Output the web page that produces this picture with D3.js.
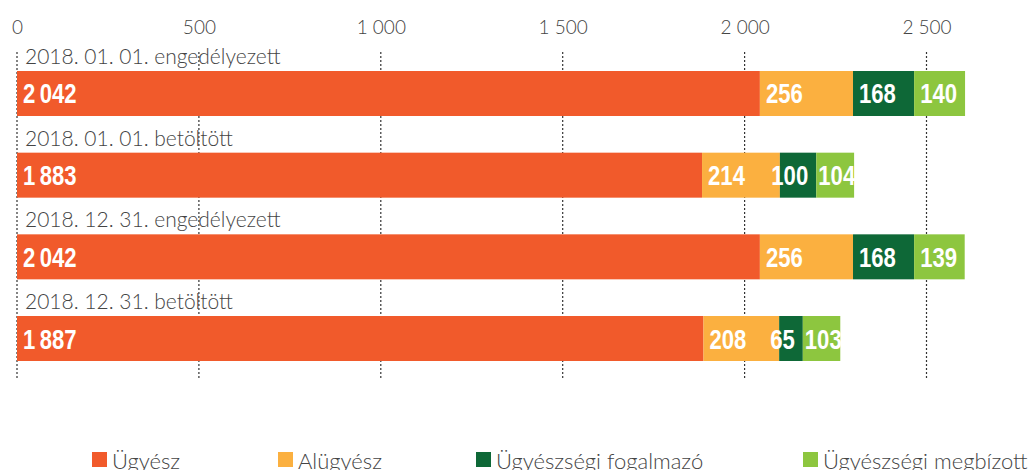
<!DOCTYPE html>
<html lang="hu">
<head>
<meta charset="utf-8">
<script src="https://cdn.jsdelivr.net/npm/d3@7"></script>
<style>
  html, body { margin: 0; padding: 0; background: #fff; }
  svg { display: block; }
  .lbl { font-family: Lato, "Open Sans", sans-serif; font-weight: 300; fill: #444; }
  .val { font-family: "Liberation Sans", Arial, sans-serif; font-weight: 700; fill: #fff; }
</style>
</head>
<body>
<svg id="chart" width="1034" height="470"></svg>
<script>
// Létszámadatok kategóriánként
const categories = [
  "2018. 01. 01. engedélyezett",
  "2018. 01. 01. betöltött",
  "2018. 12. 31. engedélyezett",
  "2018. 12. 31. betöltött"
];
const seriesNames = ["Ügyész", "Alügyész", "Ügyészségi fogalmazó", "Ügyészségi megbízott"];
const ugyesz     = [2042, 1883, 2042, 1887];
const alugyesz   = [256, 214, 256, 208];
const fogalmazo  = [168, 100, 168, 65];
const megbizott  = [140, 104, 139, 103];
const tickValues = [0, 500, 1000, 1500, 2000, 2500];
const colors = ["#F15A2B", "#FBB040", "#0E6837", "#8DC63F"];

const rows = categories.map((c, i) => ({
  cat: c,
  "Ügyész": ugyesz[i],
  "Alügyész": alugyesz[i],
  "Ügyészségi fogalmazó": fogalmazo[i],
  "Ügyészségi megbízott": megbizott[i]
}));

const svg = d3.select("#chart");

const x = d3.scaleLinear().domain([0, 2500]).range([17, 926.5]);
const y = d3.scaleBand().domain(categories).range([71, 361]).paddingInner(0.449).paddingOuter(0);
const color = d3.scaleOrdinal().domain(seriesNames).range(colors);

const axisLocale = d3.formatLocale({ decimal: ",", thousands: " ", grouping: [3], currency: ["", " Ft"] });
const valLocale  = d3.formatLocale({ decimal: ",", thousands: "\u2009", grouping: [3], currency: ["", " Ft"] });
const fmtAxis = axisLocale.format(",d");
const fmtVal = valLocale.format(",d");

// Függőleges, pontozott rácsvonalak
svg.append("g")
  .selectAll("line")
  .data(tickValues)
  .join("line")
  .attr("x1", d => x(d)).attr("x2", d => x(d))
  .attr("y1", 52).attr("y2", 380)
  .attr("stroke", "#333")
  .attr("stroke-width", 1.2)
  .attr("stroke-dasharray", "2,2");

// Felső tengely feliratai
const axis = d3.axisTop(x).tickValues(tickValues).tickFormat(fmtAxis).tickSize(0).tickPadding(0);
const ag = svg.append("g").attr("transform", "translate(0,34)").call(axis);
ag.select(".domain").remove();
ag.selectAll("text")
  .attr("class", "lbl")
  .attr("font-size", 19)
  .attr("dy", 0)
  .style("fill", "#444");

// Halmozott sávok
const stack = d3.stack().keys(seriesNames);
const layers = stack(rows);

const g = svg.append("g");
layers.forEach((layer, li) => {
  const lg = g.append("g").attr("fill", color(layer.key));
  lg.selectAll("rect")
    .data(layer)
    .join("rect")
    .attr("x", d => x(d[0]))
    .attr("y", d => y(d.data.cat))
    .attr("width", d => x(d[1]) - x(d[0]))
    .attr("height", y.bandwidth());
});

// Kategóriacímkék a sávok fölött
svg.append("g")
  .selectAll("text")
  .data(categories)
  .join("text")
  .attr("class", "lbl")
  .attr("font-size", 21)
  .attr("x", 25)
  .attr("y", d => y(d) - 7)
  .text(d => d);

// Értékcímkék a szakaszokon belül
const sx = 0.82;
const vg = svg.append("g");
layers.forEach((layer, li) => {
  layer.forEach(d => {
    const x0 = x(d[0]), x1 = x(d[1]);
    const value = d[1] - d[0];
    const t = vg.append("text")
      .attr("class", "val")
      .attr("font-size", 27)
      .text(fmtVal(value));
    const w = t.node().getComputedTextLength() * sx;
    const cy = y(d.data.cat) + y.bandwidth() / 2 + 10;
    let tx;
    if (w + 12 <= x1 - x0) tx = x0 + 6;
    else if (li === layers.length - 1) tx = x0 + 2;
    else tx = x1 - 8 - w;
    t.attr("transform", `translate(${tx},${cy}) scale(${sx},1)`);
  });
});

// Jelmagyarázat
const legendX = [92, 278, 476, 803];
const lgd = svg.append("g").selectAll("g")
  .data(seriesNames)
  .join("g")
  .attr("transform", (d, i) => `translate(${legendX[i]},452)`);
lgd.append("rect")
  .attr("width", 15).attr("height", 15)
  .attr("fill", d => color(d));
lgd.append("text")
  .attr("class", "lbl")
  .attr("font-size", 22)
  .attr("x", 20)
  .attr("y", 17)
  .text(d => d);
</script>
</body>
</html>
